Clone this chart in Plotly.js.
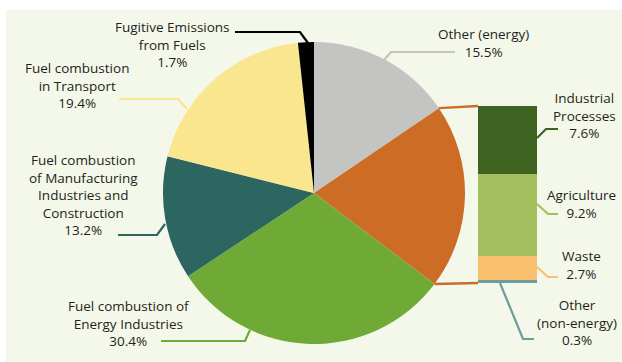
<!DOCTYPE html>
<html><head><meta charset="utf-8">
<script src="https://cdn.plot.ly/plotly-3.0.1.min.js"></script>
<style>html,body{margin:0;padding:0;background:#fff}#c{width:622px;height:362px}</style>
</head><body><div id="c"></div>
<script>
// ---- data ----
const pieLabels = ["Other (energy)", "Non-energy", "Fuel combustion of Energy Industries",
  "Fuel combustion of Manufacturing Industries and Construction", "Fuel combustion in Transport",
  "Fugitive Emissions from Fuels"];
const pieValues = [15.5, 19.8, 30.4, 13.2, 19.4, 1.7];
const pieColors = ["#c4c4c3", "#cd6c25", "#70aa36", "#2d6661", "#f9e68f", "#000000"];
const barLabels = ["Other (non-energy)", "Waste", "Agriculture", "Industrial Processes"];
const barValues = [0.3, 2.7, 9.2, 7.6];
const barColors = ["#6d9c9b", "#f8c06e", "#a4bf5d", "#3e6220"];

// ---- layout geometry (pixels) ----
const W = 622, H = 362;
const cx = 314, cy = 193, R = 151;
const barL = 478, barR = 537, barT = 106, barB = 283;
const px = x => x / W, py = y => 1 - y / H;

const total = pieValues.reduce((a, b) => a + b, 0);
const barTotal = barValues.reduce((a, b) => a + b, 0);

const traces = [{
  type: "pie", labels: pieLabels, values: pieValues, sort: false, direction: "clockwise",
  rotation: 0, textinfo: "none", hoverinfo: "label+percent",
  marker: { colors: pieColors, line: { width: 0 } },
  domain: { x: [px(cx - R), px(cx + R)], y: [py(cy + R), py(cy - R)] },
  showlegend: false
}];
barLabels.forEach((l, i) => traces.push({
  type: "bar", x: ["non"], y: [barValues[i]], name: l, width: 1,
  marker: { color: barColors[i], line: { width: 0 } }, showlegend: false,
  xaxis: "x", yaxis: "y", hoverinfo: "name+y"
}));

// connector lines: from non-energy slice edges to bar corners
const cum0 = pieValues[0] / total * 2 * Math.PI;
const cum1 = (pieValues[0] + pieValues[1]) / total * 2 * Math.PI;
const edge = a => [cx + R * Math.sin(a), cy - R * Math.cos(a)];
const e0 = edge(cum0), e1 = edge(cum1);
const orange = pieColors[1];
const shapes = [
  { type: "rect", xref: "paper", yref: "paper", x0: px(6), x1: 1.01, y0: -0.01, y1: py(10),
    fillcolor: "#f4f8ea", line: { width: 0 }, layer: "below" },
  { type: "line", xref: "paper", yref: "paper", x0: px(e0[0]), y0: py(e0[1]), x1: px(barL), y1: py(barT),
    line: { color: orange, width: 2.5 } },
  { type: "line", xref: "paper", yref: "paper", x0: px(e1[0]), y0: py(e1[1]), x1: px(barL), y1: py(barB),
    line: { color: orange, width: 2.5 } }
];
function leader(pts, color) {
  const d = pts.map((p, i) => (i ? "L" : "M") + px(p[0]) + "," + py(p[1])).join(" ");
  shapes.push({ type: "path", xref: "paper", yref: "paper", path: d, line: { color: color, width: 2.2 } });
}
leader([[235, 32], [300, 32], [308, 43]], "#000000");
leader([[119, 99], [178, 99], [187, 109]], "#f9e68f");
leader([[118, 235], [157, 235], [165, 224]], "#2d6661");
leader([[161, 341], [245, 341], [250, 330]], "#70aa36");
leader([[455, 52], [391, 52], [384, 60]], "#c4c4c3");
leader([[558, 129], [546, 129], [537, 138]], "#3e6220");
leader([[558, 214], [548, 214], [537, 204]], "#a4bf5d");
leader([[558, 277], [548, 277], [537, 267]], "#f8c06e");
leader([[500, 283], [523, 339], [534, 339]], "#6d9c9b");

const fmt = v => v.toFixed(1) + "%";
const anns = [];
function lab(x, y, text) {
  anns.push({ xref: "paper", yref: "paper", x: px(x), y: py(y), text: text, showarrow: false,
    xanchor: "center", yanchor: "middle", align: "center",
    font: { family: "Open Sans, sans-serif", size: 13.5, color: "#231f20" } });
}
lab(172, 44, "Fugitive Emissions<br>from Fuels<br>" + fmt(pieValues[5]));
lab(77, 86, "Fuel combustion<br>in Transport<br>" + fmt(pieValues[4]));
lab(83, 195, "Fuel combustion<br>of Manufacturing<br>Industries and<br>Construction<br>" + fmt(pieValues[3]));
lab(129, 323, "Fuel combustion of<br>Energy Industries<br>" + fmt(pieValues[2]));
lab(483, 43, "Other (energy)<br>" + fmt(pieValues[0]));
lab(584, 115, "Industrial<br>Processes<br>" + fmt(barValues[3]));
lab(581, 204, "Agriculture<br>" + fmt(barValues[2]));
lab(581, 265, "Waste<br>" + fmt(barValues[1]));
lab(577, 322, "Other<br>(non-energy)<br>" + fmt(barValues[0]));

const layout = {
  width: W, height: H, margin: { l: 0, r: 0, t: 0, b: 0 },
  paper_bgcolor: "#ffffff", plot_bgcolor: "rgba(0,0,0,0)",
  barmode: "stack", bargap: 0,
  xaxis: { domain: [px(barL), px(barR)], range: [-0.5, 0.5], visible: false, fixedrange: true },
  yaxis: { domain: [py(barB), py(barT)], range: [0, barTotal], visible: false, fixedrange: true },
  shapes: shapes, annotations: anns, showlegend: false
};
Plotly.newPlot("c", traces, layout, { displayModeBar: false, staticPlot: true });
</script></body></html>
